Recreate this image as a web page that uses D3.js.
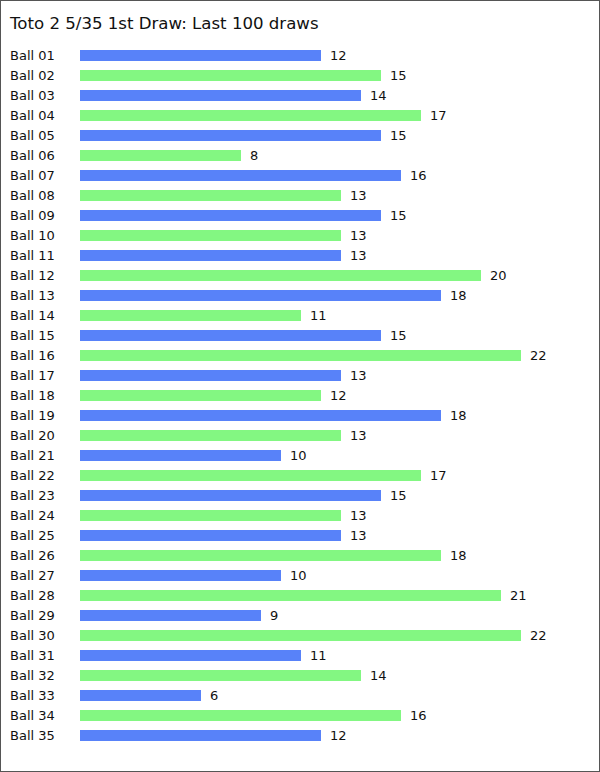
<!DOCTYPE html>
<html><head><meta charset="utf-8">
<script src="https://cdn.jsdelivr.net/npm/d3@7/dist/d3.min.js"></script>
<style>body{margin:0;padding:0;background:#fff}svg{display:block}</style>
</head><body>
<script>
const title = "Toto 2 5/35 1st Draw: Last 100 draws";
const categories = ["Ball 01","Ball 02","Ball 03","Ball 04","Ball 05","Ball 06","Ball 07","Ball 08","Ball 09","Ball 10","Ball 11","Ball 12","Ball 13","Ball 14","Ball 15","Ball 16","Ball 17","Ball 18","Ball 19","Ball 20","Ball 21","Ball 22","Ball 23","Ball 24","Ball 25","Ball 26","Ball 27","Ball 28","Ball 29","Ball 30","Ball 31","Ball 32","Ball 33","Ball 34","Ball 35"];
const values = [12,15,14,17,15,8,16,13,15,13,13,20,18,11,15,22,13,12,18,13,10,17,15,13,13,18,10,21,9,22,11,14,6,16,12];
const colors = ["#5882f9","#83f782"];

const W = 600, H = 772;
const svg = d3.select("body").append("svg").attr("width", W).attr("height", H);
svg.append("rect").attr("x",0.5).attr("y",0.5).attr("width",W-1).attr("height",H-1)
  .attr("fill","#fff").attr("stroke","#555");
svg.append("text").attr("x",10).attr("y",29).attr("font-family","DejaVu Sans")
  .attr("font-size",16.6).attr("fill","#111").text(title);

const x = d3.scaleLinear().domain([0,22]).range([80,520]);
const y = d3.scaleBand().domain(categories).range([45.5,745.5]).paddingInner(0.45).paddingOuter(0.225);

const g = svg.append("g").attr("font-family","DejaVu Sans").attr("font-size",13).attr("fill","#111");
categories.forEach((c,i)=>{
  const yc = y(c) + y.bandwidth()/2;
  g.append("text").attr("x",10).attr("y",yc).attr("dy","0.36em").text(c);
  svg.append("rect").attr("x",x(0)).attr("y",y(c)).attr("width",x(values[i])-x(0)+1)
    .attr("height",y.bandwidth()).attr("fill",colors[i%2]);
  g.append("text").attr("x",x(values[i])+10).attr("y",yc).attr("dy","0.36em").text(values[i]);
});
</script>
</body></html>
